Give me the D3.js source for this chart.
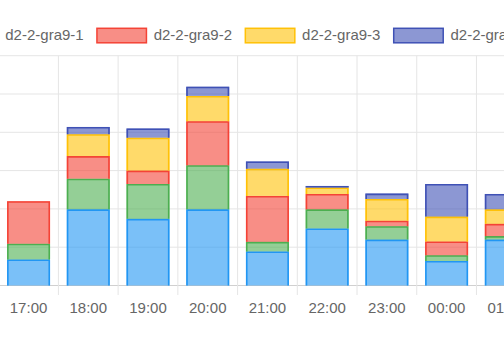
<!DOCTYPE html>
<html><head><meta charset="utf-8">
<script src="https://cdn.jsdelivr.net/npm/d3@7/dist/d3.min.js"></script>
<style>html,body{margin:0;padding:0;background:#fff;overflow:hidden}svg{display:block}</style>
</head><body>
<script>
const categories = ["17:00","18:00","19:00","20:00","21:00","22:00","23:00","00:00","01:00"];
const seriesNames = ["d2-2-gra9-0","d2-2-gra9-1","d2-2-gra9-2","d2-2-gra9-3","d2-2-gra9-4"];
const seriesColors = ["#2196F3","#4CAF50","#F44336","#FFC107","#3F51B5"];
const s0 = [6.8, 19.9, 17.4, 19.9, 8.9, 14.9, 12.0, 6.4, 12.0];
const s1 = [4.1, 8.0, 9.1, 11.5, 2.5, 5.0, 3.5, 1.5, 0.9];
const s2 = [11.1, 5.9, 3.5, 11.5, 12.0, 4.0, 1.4, 3.6, 3.2];
const s3 = [0, 5.7, 8.6, 6.6, 7.1, 1.7, 5.7, 6.5, 3.8];
const s4 = [0, 1.9, 2.4, 2.4, 1.9, 0.4, 1.4, 8.5, 4.0];
const yTicks = [0,10,20,30,40,50,60];

const W = 504, H = 340;
const svg = d3.select("body").append("svg").attr("width", W).attr("height", H);
const font = "'Liberation Sans', Arial, Helvetica, sans-serif";

const plotLeft = -1.3, step = 59.72;
const x = d3.scaleBand().domain(categories).range([plotLeft, plotLeft + step*categories.length]).paddingInner(0).paddingOuter(0);
const y = d3.scaleLinear().domain([0, 60]).range([285.5, 55.7]);

// grid
const g = svg.append("g");
g.selectAll("line.h").data(yTicks).join("line")
  .attr("x1", plotLeft).attr("x2", W + 10)
  .attr("y1", d => y(d)).attr("y2", d => y(d))
  .attr("stroke", d => d === 0 ? "#d0d0d0" : "#e5e5e5").attr("stroke-width", 1);
const bounds = categories.map((c,i) => x(c)).concat([x(categories[categories.length-1]) + x.bandwidth()]);
g.selectAll("line.v").data(bounds).join("line")
  .attr("x1", d => d).attr("x2", d => d)
  .attr("y1", y(60)).attr("y2", y(0) + 9.5)
  .attr("stroke", "#e5e5e5").attr("stroke-width", 1);

// stacked data
const rows = categories.map((c,i) => ({cat:c, s0:s0[i], s1:s1[i], s2:s2[i], s3:s3[i], s4:s4[i]}));
const keys = ["s0","s1","s2","s3","s4"];
const stacked = d3.stack().keys(keys)(rows);
const bw = x.bandwidth() * 0.72;
const off = (x.bandwidth() - bw) / 2;
const border = 1.6;

stacked.forEach((layer, li) => {
  const col = seriesColors[li];
  const lg = svg.append("g");
  layer.forEach(d => {
    const v = d[1] - d[0];
    if (v <= 0) return;
    const x0 = x(d.data.cat) + off, x1 = x0 + bw;
    const yt = y(d[1]), yb = y(d[0]);
    lg.append("rect").attr("x", x0).attr("y", yt).attr("width", bw).attr("height", yb - yt)
      .attr("fill", col).attr("fill-opacity", 0.6);
    const h = border/2;
    lg.append("path")
      .attr("d", `M${x0+h},${yb} L${x0+h},${yt+h} L${x1-h},${yt+h} L${x1-h},${yb}`)
      .attr("fill", "none").attr("stroke", col).attr("stroke-width", border);
  });
});

// x labels
svg.append("g").selectAll("text").data(categories).join("text")
  .attr("x", d => x(d) + x.bandwidth()/2).attr("y", 312.5)
  .attr("text-anchor", "middle").attr("font-family", font).attr("font-size", 15)
  .attr("fill", "#666").text(d => d);

// legend
const leg = svg.append("g");
let lx = -200.6;
seriesNames.forEach((name, i) => {
  const it = leg.append("g");
  it.append("rect").attr("x", lx + 0.75).attr("y", 28.3).attr("width", 49.5).attr("height", 14.5)
    .attr("fill", seriesColors[i]).attr("fill-opacity", 0.6)
    .attr("stroke", seriesColors[i]).attr("stroke-width", 1.5);
  const t = it.append("text").attr("x", lx + 57.5).attr("y", 40.3)
    .attr("font-family", font).attr("font-size", 15).attr("fill", "#666").text(name);
  const tw = t.node().getComputedTextLength();
  lx += 50 + 7.5 + tw + 12.5;
});
</script>
</body></html>
